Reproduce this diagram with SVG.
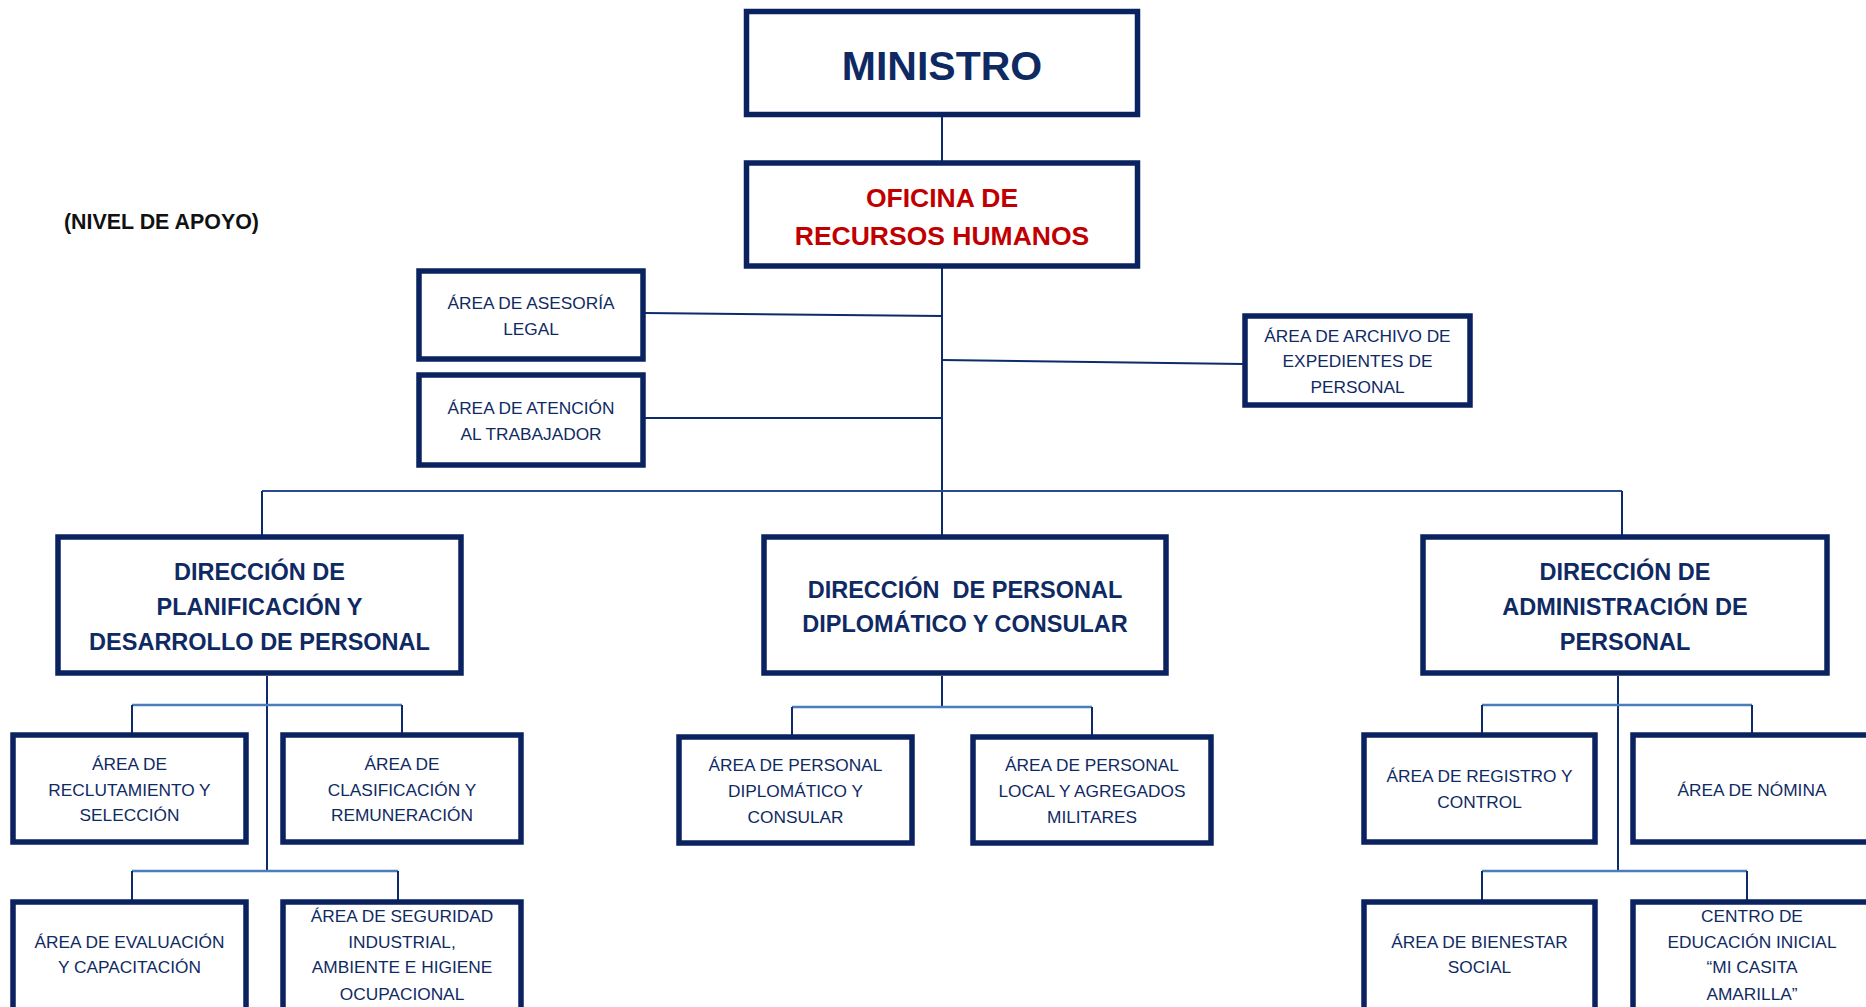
<svg xmlns="http://www.w3.org/2000/svg" width="1866" height="1007" viewBox="0 0 1866 1007">
<style>
.box{fill:#fff;stroke:#0b2260;stroke-width:5.5}
.t{font-family:"Liberation Sans",Arial,sans-serif;text-anchor:middle;fill:#0f2a63}
.a{font-size:17.3px}
.b{font-size:23.5px;font-weight:bold}
.r{fill:#c00000;font-size:26.5px;font-weight:bold}
.ln{stroke:#0d2a6b;stroke-width:2;fill:none}
.hl{stroke:#4a7ebb;stroke-width:2.5;fill:none}
.ml{stroke:#2b4c8c;stroke-width:2.2;fill:none}
</style>
<rect width="1866" height="1007" fill="#fff"/>
<g id="connectors">
<line class="ln" x1="942" y1="117" x2="942" y2="161"/>
<line class="ln" x1="942" y1="268" x2="942" y2="535"/>
<line class="ln" x1="645" y1="313" x2="942" y2="316"/>
<line class="ln" x1="645" y1="418" x2="942" y2="418"/>
<line class="ln" x1="942" y1="360" x2="1243" y2="364"/>
<line class="ml" x1="262" y1="491" x2="1622" y2="491"/>
<line class="ln" x1="262" y1="491" x2="262" y2="535"/>
<line class="ln" x1="1622" y1="491" x2="1622" y2="535"/>
<line class="ln" x1="267" y1="676" x2="267" y2="871"/>
<line class="hl" x1="132" y1="705" x2="402" y2="705"/>
<line class="ln" x1="132" y1="705" x2="132" y2="733"/>
<line class="ln" x1="402" y1="705" x2="402" y2="733"/>
<line class="hl" x1="132" y1="871" x2="398" y2="871"/>
<line class="ln" x1="132" y1="871" x2="132" y2="900"/>
<line class="ln" x1="398" y1="871" x2="398" y2="900"/>
<line class="ln" x1="942" y1="676" x2="942" y2="707"/>
<line class="hl" x1="792" y1="707" x2="1092" y2="707"/>
<line class="ln" x1="792" y1="707" x2="792" y2="735"/>
<line class="ln" x1="1092" y1="707" x2="1092" y2="735"/>
<line class="ln" x1="1618" y1="676" x2="1618" y2="871"/>
<line class="hl" x1="1482" y1="705" x2="1752" y2="705"/>
<line class="ln" x1="1482" y1="705" x2="1482" y2="733"/>
<line class="ln" x1="1752" y1="705" x2="1752" y2="733"/>
<line class="hl" x1="1482" y1="871" x2="1747" y2="871"/>
<line class="ln" x1="1482" y1="871" x2="1482" y2="900"/>
<line class="ln" x1="1747" y1="871" x2="1747" y2="900"/>
</g>
<text x="64" y="229" style="font-family:'Liberation Sans',Arial,sans-serif;font-size:21.4px;font-weight:bold;fill:#111">(NIVEL DE APOYO)</text>
<g id="ministro">
<rect class="box" x="746.5" y="11.5" width="391" height="103"/>
<text class="t" x="942" y="80" style="font-size:41px;font-weight:bold">MINISTRO</text>
</g>
<g id="oficina">
<rect class="box" x="746.5" y="163" width="391" height="103"/>
<text class="t r" x="942" y="207">OFICINA DE</text>
<text class="t r" x="942" y="245">RECURSOS HUMANOS</text>
</g>
<g id="asesoria">
<rect class="box" x="419" y="271" width="224" height="88"/>
<text class="t a" x="531" y="309">ÁREA DE ASESORÍA</text>
<text class="t a" x="531" y="335">LEGAL</text>
</g>
<g id="atencion">
<rect class="box" x="419" y="375" width="224" height="90"/>
<text class="t a" x="531" y="414">ÁREA DE ATENCIÓN</text>
<text class="t a" x="531" y="440">AL TRABAJADOR</text>
</g>
<g id="archivo">
<rect class="box" x="1245" y="316" width="225" height="89"/>
<text class="t a" x="1357.5" y="342">ÁREA DE ARCHIVO DE</text>
<text class="t a" x="1357.5" y="367">EXPEDIENTES DE</text>
<text class="t a" x="1357.5" y="393">PERSONAL</text>
</g>
<g id="dir-planificacion">
<rect class="box" x="58" y="537" width="403" height="136"/>
<text class="t b" x="259.5" y="580">DIRECCIÓN DE</text>
<text class="t b" x="259.5" y="615">PLANIFICACIÓN Y</text>
<text class="t b" x="259.5" y="650">DESARROLLO DE PERSONAL</text>
</g>
<g id="dir-diplomatico">
<rect class="box" x="764" y="537" width="402" height="136"/>
<text class="t b" x="965" y="598" xml:space="preserve">DIRECCIÓN  DE PERSONAL</text>
<text class="t b" x="965" y="632">DIPLOMÁTICO Y CONSULAR</text>
</g>
<g id="dir-administracion">
<rect class="box" x="1423" y="537" width="404" height="136"/>
<text class="t b" x="1625" y="580">DIRECCIÓN DE</text>
<text class="t b" x="1625" y="615">ADMINISTRACIÓN DE</text>
<text class="t b" x="1625" y="650">PERSONAL</text>
</g>
<g id="reclutamiento">
<rect class="box" x="13" y="735" width="233" height="107"/>
<text class="t a" x="129.5" y="770">ÁREA DE</text>
<text class="t a" x="129.5" y="796">RECLUTAMIENTO Y</text>
<text class="t a" x="129.5" y="821">SELECCIÓN</text>
</g>
<g id="clasificacion">
<rect class="box" x="283" y="735" width="238" height="107"/>
<text class="t a" x="402" y="770">ÁREA DE</text>
<text class="t a" x="402" y="796">CLASIFICACIÓN Y</text>
<text class="t a" x="402" y="821">REMUNERACIÓN</text>
</g>
<g id="evaluacion">
<rect class="box" x="13" y="902" width="233" height="120"/>
<text class="t a" x="129.5" y="948">ÁREA DE EVALUACIÓN</text>
<text class="t a" x="129.5" y="973">Y CAPACITACIÓN</text>
</g>
<g id="seguridad">
<rect class="box" x="283" y="902" width="238" height="120"/>
<text class="t a" x="402" y="922">ÁREA DE SEGURIDAD</text>
<text class="t a" x="402" y="948">INDUSTRIAL,</text>
<text class="t a" x="402" y="973">AMBIENTE E HIGIENE</text>
<text class="t a" x="402" y="1000">OCUPACIONAL</text>
</g>
<g id="personal-diplomatico">
<rect class="box" x="679" y="737" width="233" height="106"/>
<text class="t a" x="795.5" y="771">ÁREA DE PERSONAL</text>
<text class="t a" x="795.5" y="797">DIPLOMÁTICO Y</text>
<text class="t a" x="795.5" y="823">CONSULAR</text>
</g>
<g id="personal-local">
<rect class="box" x="973" y="737" width="238" height="106"/>
<text class="t a" x="1092" y="771">ÁREA DE PERSONAL</text>
<text class="t a" x="1092" y="797">LOCAL Y AGREGADOS</text>
<text class="t a" x="1092" y="823">MILITARES</text>
</g>
<g id="registro">
<rect class="box" x="1364" y="735" width="231" height="107"/>
<text class="t a" x="1479.5" y="782">ÁREA DE REGISTRO Y</text>
<text class="t a" x="1479.5" y="808">CONTROL</text>
</g>
<g id="nomina">
<rect class="box" x="1633" y="735" width="250" height="107"/>
<text class="t a" x="1752" y="796">ÁREA DE NÓMINA</text>
</g>
<g id="bienestar">
<rect class="box" x="1364" y="902" width="231" height="120"/>
<text class="t a" x="1479.5" y="948">ÁREA DE BIENESTAR</text>
<text class="t a" x="1479.5" y="973">SOCIAL</text>
</g>
<g id="centro">
<rect class="box" x="1633" y="902" width="250" height="120"/>
<text class="t a" x="1752" y="922">CENTRO DE</text>
<text class="t a" x="1752" y="948">EDUCACIÓN INICIAL</text>
<text class="t a" x="1752" y="973">“MI CASITA</text>
<text class="t a" x="1752" y="1000">AMARILLA”</text>
</g>
</svg>
